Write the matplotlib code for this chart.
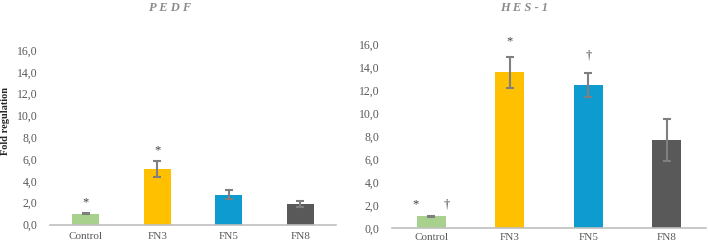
import numpy as np
import matplotlib
matplotlib.use("Agg")
import matplotlib.pyplot as plt

plt.rcParams['font.family'] = ['Liberation Serif', 'DejaVu Serif']

categories = ['Control', 'FN3', 'FN5', 'FN8']
colors = ['#a9d18e', '#ffc000', '#0e9bd0', '#595959']

pedf_vals = [1.0, 5.1, 2.75, 1.9]
pedf_err = [0.05, 0.7, 0.45, 0.3]
# (category index, x offset, y, symbol)
pedf_marks = [(0, 0.0, 2.0, '*'), (1, 0.0, 6.8, '*')]

hes_vals = [1.0, 13.55, 12.45, 7.65]
hes_err = [0.05, 1.35, 1.05, 1.8]
hes_marks = [(0, -0.2, 2.0, '*'), (0, 0.2, 2.0, '\u2020'),
             (1, 0.0, 16.2, '*'), (2, 0.0, 15.0, '\u2020')]

yticks = np.arange(0, 17, 2)

W, H = 708, 244
fig = plt.figure(figsize=(W / 100, H / 100), dpi=100)


def panel(px_left, px_right, px_bottom, px_top, vals, errs, marks, width, xpad):
    ax = fig.add_axes([px_left / W, 1 - px_bottom / H,
                       (px_right - px_left) / W, (px_bottom - px_top) / H])
    x = np.arange(len(categories))
    ax.bar(x, vals, width=width, color=colors, zorder=2)
    ax.errorbar(x, vals, yerr=errs, fmt='none', ecolor='#7f7f7f',
                elinewidth=1.5, capsize=3, capthick=1.5, zorder=3)
    for i, dx, y, s in marks:
        ax.text(i + dx, y, s, ha='center', va='center', fontsize=9, color='#404040')
    ax.set_xlim(-0.5, len(categories) - 0.5)
    ax.set_ylim(0, 16)
    ax.set_yticks(yticks)
    ax.set_yticklabels([f'{v:.1f}'.replace('.', ',') for v in yticks])
    ax.set_xticks(x)
    ax.set_xticklabels(categories)
    ax.tick_params(length=0, labelsize=8.5, labelcolor='#595959')
    ax.tick_params(axis='x', labelsize=8, pad=xpad)
    ax.tick_params(axis='y', pad=9)
    for s in ['top', 'right', 'left']:
        ax.spines[s].set_visible(False)
    ax.spines['bottom'].set_color('#bfbfbf')
    ax.spines['bottom'].set_linewidth(1.2)
    return ax


ax1 = panel(50, 336, 224.5, 50, pedf_vals, pedf_err, pedf_marks, 0.38, 5.5)
ax1.set_ylabel('Fold regulation', fontsize=7.5, fontweight='bold', color='#262626')
ax1.yaxis.set_label_coords(-40 / 286, (224.5 - 121) / 174.5)

ax2 = panel(392, 706, 227.8, 44, hes_vals, hes_err, hes_marks, 0.37, 3.5)

title_kw = dict(fontsize=9, fontweight='bold', style='italic', color='#8c8c8c',
                ha='center', va='center')
fig.text(170 / W, 1 - 8 / H, 'P E D F', **title_kw)
fig.text(524 / W, 1 - 8 / H, 'H E S - 1', **title_kw)

fig.savefig('out.png', dpi=100)
